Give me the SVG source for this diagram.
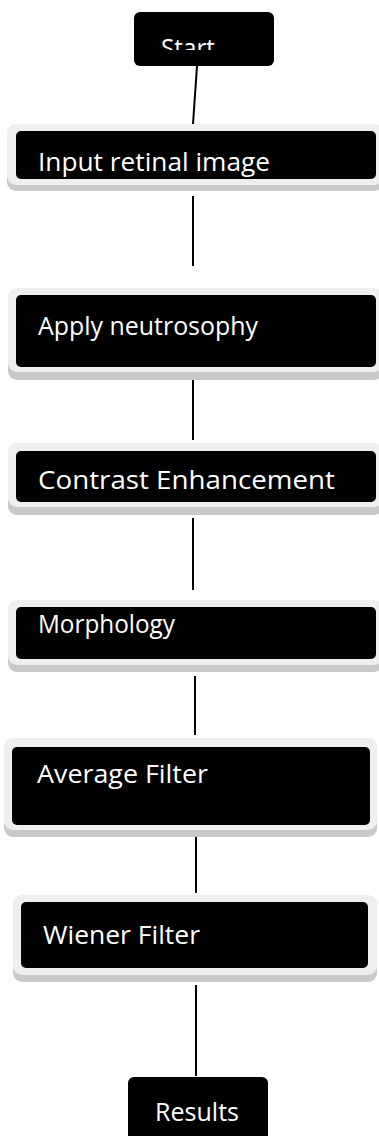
<svg xmlns="http://www.w3.org/2000/svg" width="379" height="1136" viewBox="0 0 379 1136">
<style>
.sh{fill:#c9c9c9}
.fr{fill:#efefef}
.bk{fill:#000}
.t{font-family:"Open Sans","Liberation Sans",sans-serif;font-size:26px;fill:#fff}
.c{stroke:#000;stroke-width:2;fill:none}
</style>
<defs>
<clipPath id="startClip"><rect x="134" y="12" width="140" height="38"/></clipPath>
</defs>
<rect width="379" height="1136" fill="#fff"/>
<g id="connectors">
<line class="c" x1="197" y1="66" x2="193" y2="124"/>
<line class="c" x1="193" y1="196" x2="193" y2="266"/>
<line class="c" x1="193" y1="372" x2="193" y2="440"/>
<line class="c" x1="193" y1="518" x2="193" y2="590"/>
<line class="c" x1="195" y1="676" x2="195" y2="735"/>
<line class="c" x1="196" y1="833" x2="196" y2="893"/>
<line class="c" x1="196" y1="985" x2="196" y2="1076"/>
</g>
<g id="start">
<rect class="bk" x="134" y="12" width="140" height="54" rx="6"/>
<text class="t" x="161" y="57" clip-path="url(#startClip)" textLength="54" lengthAdjust="spacingAndGlyphs">Start</text>
</g>
<g id="input">
<rect class="sh" x="7" y="130" width="376" height="61" rx="9"/>
<rect class="fr" x="7" y="124" width="376" height="61" rx="9"/>
<rect class="bk" x="16" y="131" width="360" height="48" rx="5"/>
<text class="t" x="38" y="171" textLength="232" lengthAdjust="spacingAndGlyphs">Input retinal  image</text>
</g>
<g id="apply">
<rect class="sh" x="8" y="296" width="375" height="84" rx="9"/>
<rect class="fr" x="8" y="288" width="375" height="84" rx="9"/>
<rect class="bk" x="16" y="295" width="360" height="72" rx="5"/>
<text class="t" x="38" y="335" textLength="220" lengthAdjust="spacingAndGlyphs">Apply neutrosophy</text>
</g>
<g id="contrast">
<rect class="sh" x="8" y="451" width="375" height="64" rx="9"/>
<rect class="fr" x="8" y="443" width="375" height="64" rx="9"/>
<rect class="bk" x="16" y="451" width="360" height="51" rx="5"/>
<text class="t" x="38" y="489" textLength="297" lengthAdjust="spacingAndGlyphs">Contrast Enhancement</text>
</g>
<g id="morphology">
<rect class="sh" x="8" y="607" width="375" height="65" rx="9"/>
<rect class="fr" x="8" y="600" width="375" height="65" rx="9"/>
<rect class="bk" x="16" y="607" width="360" height="52" rx="5"/>
<text class="t" x="38" y="633" textLength="137" lengthAdjust="spacingAndGlyphs">Morphology</text>
</g>
<g id="average">
<rect class="sh" x="4" y="745" width="373" height="92" rx="9"/>
<rect class="fr" x="4" y="738" width="373" height="92" rx="9"/>
<rect class="bk" x="12" y="747" width="358" height="78" rx="5"/>
<text class="t" x="37" y="783" textLength="171" lengthAdjust="spacingAndGlyphs">Average Filter</text>
</g>
<g id="wiener">
<rect class="sh" x="13" y="902" width="364" height="80" rx="9"/>
<rect class="fr" x="13" y="895" width="364" height="80" rx="9"/>
<rect class="bk" x="21" y="902" width="347" height="66" rx="5"/>
<text class="t" x="43" y="944" textLength="157" lengthAdjust="spacingAndGlyphs">Wiener Filter</text>
</g>
<g id="results">
<rect class="bk" x="128" y="1077" width="140" height="70" rx="6"/>
<text class="t" x="155" y="1121" textLength="84" lengthAdjust="spacingAndGlyphs">Results</text>
</g>
</svg>
